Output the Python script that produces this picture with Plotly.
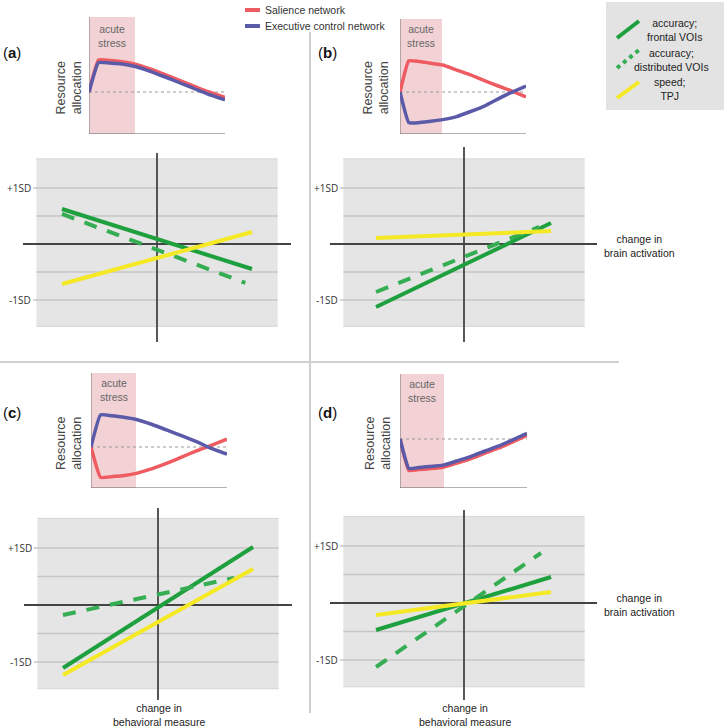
import plotly.graph_objects as go

W, H = 724, 728
FONT = "Liberation Sans, Arial, sans-serif"

# ---------------- data ----------------
panels = ["a", "b", "c", "d"]

# top row: resource allocation over time (arbitrary units; 0 = baseline)
time = [0, 0.7, 1.5, 2.3, 3.4, 4.5, 5.6, 6.7, 7.8, 8.7, 10]
salience = {
    "a": [0, 1.07, 1.05, 1.02, 0.93, 0.77, 0.58, 0.38, 0.18, 0.02, -0.18],
    "b": [0, 1.04, 1.02, 0.97, 0.90, 0.73, 0.57, 0.38, 0.20, 0.06, -0.16],
    "c": [0, -1.01, -0.99, -0.96, -0.87, -0.72, -0.54, -0.33, -0.12, 0.03, 0.26],
    "d": [0, -1.05, -1.02, -0.99, -0.94, -0.80, -0.65, -0.47, -0.30, -0.13, 0.12],
}
executive = {
    "a": [0, 0.98, 0.97, 0.94, 0.85, 0.69, 0.50, 0.30, 0.10, -0.06, -0.26],
    "b": [0, -1.02, -1.02, -0.98, -0.92, -0.82, -0.65, -0.47, -0.23, -0.04, 0.20],
    "c": [0, 1.07, 1.04, 1.00, 0.91, 0.75, 0.56, 0.37, 0.17, -0.02, -0.24],
    "d": [0, -0.98, -0.95, -0.92, -0.87, -0.73, -0.58, -0.40, -0.23, -0.06, 0.19],
}
stress_end = {"a": 3.38, "b": 3.33, "c": 3.31, "d": 3.46}
time_tick = {"a": 8.46, "b": 8.73, "c": 8.31, "d": 8.82}

# bottom row: behavioral change (SD) vs change in brain activation
acc_frontal_x = {"a": [-1.0, 1.0], "b": [-0.926, 0.916], "c": [-1.0, 1.0], "d": [-0.926, 0.916]}
acc_frontal_y = {"a": [0.625, -0.446], "b": [-1.125, 0.375], "c": [-1.105, 1.018], "d": [-0.474, 0.456]}
acc_distr_x = {"a": [-1.0, 0.93], "b": [-0.926, 0.79], "c": [-1.0, 0.80], "d": [-0.926, 0.81]}
acc_distr_y = {"a": [0.536, -0.696], "b": [-0.857, 0.304], "c": [-0.175, 0.474], "d": [-1.123, 0.877]}
speed_x = {"a": [-1.0, 1.0], "b": [-0.926, 0.916], "c": [-1.0, 1.0], "d": [-0.926, 0.916]}
speed_y = {"a": [-0.714, 0.214], "b": [0.107, 0.232], "c": [-1.228, 0.632], "d": [-0.21, 0.193]}

sd_ticks = [1, -1]
sd_labels = ["+1SD", "-1SD"]
grid_levels = [-1.0, -0.5, 0.5, 1.0]

# ---------------- styles / layout geometry (pixels) ----------------
RED = "#ee5b60"
BLUE = "#5a5aa8"
PINK = "#f2d2d5"
GREEN = "#1fa03f"
GREEN_D = "#35ad52"
YELLOW = "#f4e924"
GRID = "#c6c6c6"
RECT = "#e5e5e5"
AX = "#444444"

top_geo = {  # x0, x1, ytop, ybot, baseline
    "a": (89, 225, 17, 134, 92),
    "b": (400, 526, 19, 134, 92),
    "c": (91, 227, 373, 488, 447),
    "d": (400, 527, 374, 488, 439),
}
stress_txt_y = {"a": 35.5, "b": 35.5, "c": 389.5, "d": 391}
res_txt = {"a": (68.5, 88), "b": (375.5, 88), "c": (69, 443), "d": (378, 443)}
bot_geo = {  # cx, cy, xl, xr, yt, yb, px/SD(y)
    "a": (157, 244, 23, 291, 153, 342, 56),
    "b": (464, 244, 330, 597, 147, 342, 56),
    "c": (158, 605, 24, 292, 508, 700, 57),
    "d": (464, 603, 330, 597, 510, 700, 57),
}
SX = 95.0        # px per x unit (bottom panels)
SY_TOP = 30.0    # px per allocation unit (top panels)
RECT_X = 1.27
RECT_Y = (-1.47, 1.52)


def px(x):
    return x / W


def py(y):
    return 1 - y / H


fig = go.Figure()
layout = dict(
    width=W, height=H, margin=dict(l=0, r=0, t=0, b=0),
    paper_bgcolor="white", plot_bgcolor="rgba(0,0,0,0)", showlegend=False,
    font=dict(family=FONT, size=10, color="#333"),
)
shapes = []
annotations = []


def ax_off():
    return dict(visible=False, fixedrange=True)


def note(x, y, text, size=10.5, color="#222", family=FONT, **kw):
    d = dict(xref="paper", yref="paper", x=px(x), y=py(y), text=text, showarrow=False,
             xanchor="center", yanchor="middle", font=dict(size=size, color=color, family=family))
    d.update(kw)
    annotations.append(d)


def seg(xr, yr, x0, x1, y0, y1, line, layer="below"):
    shapes.append(dict(type="line", xref=xr, yref=yr, x0=x0, x1=x1, y0=y0, y1=y1,
                       line=line, layer=layer))


for i, p in enumerate(panels):
    # ---------- top panel ----------
    n = i + 1
    xa, ya = (f"x{n}", f"y{n}") if n > 1 else ("x", "y")
    xk, yk = (f"xaxis{n}", f"yaxis{n}") if n > 1 else ("xaxis", "yaxis")
    x0, x1, yt, yb, base = top_geo[p]
    ylo, yhi = (base - yb) / SY_TOP, (base - yt) / SY_TOP
    layout[xk] = dict(ax_off(), domain=[px(x0), px(x1)], range=[0, 10])
    layout[yk] = dict(ax_off(), domain=[py(yb), py(yt)], range=[ylo, yhi])
    shapes.append(dict(type="rect", xref=xa, yref=ya, x0=0, x1=stress_end[p],
                       y0=ylo, y1=yhi, fillcolor=PINK, line=dict(width=0), layer="below"))
    seg(xa, ya, 0, 10, 0, 0, dict(color="#999", width=1, dash="dot"))
    seg(xa, ya, 0, 0, ylo, yhi, dict(color="#777", width=1))
    seg(xa, ya, 0, 10, ylo, ylo, dict(color="#666", width=1))
    seg(xa, ya, time_tick[p], time_tick[p], ylo - 0.1, ylo, dict(color="#444", width=1.5))
    fig.add_trace(go.Scatter(x=time, y=salience[p], xaxis=xa, yaxis=ya, mode="lines",
                             line=dict(color=RED, width=3.5, shape="spline", smoothing=0.35),
                             hoverinfo="skip", cliponaxis=False))
    fig.add_trace(go.Scatter(x=time, y=executive[p], xaxis=xa, yaxis=ya, mode="lines",
                             line=dict(color=BLUE, width=3.5, shape="spline", smoothing=0.35),
                             hoverinfo="skip", cliponaxis=False))
    sx_px = x0 + stress_end[p] / 10 * (x1 - x0)
    note((x0 + sx_px) / 2, stress_txt_y[p], "acute<br>stress", size=10.5, color="#666")
    rx, ry = res_txt[p]
    note(rx, ry, "Resource<br>allocation", size=12.5, color="#444", textangle=-90)
    lab_x = 12 if p in "ac" else 327
    lab_y = 53 if p in "ab" else 412
    note(lab_x, lab_y, f"(<b>{p}</b>)", size=15, color="#111")

    # ---------- bottom panel ----------
    m = i + 5
    xb, yb2 = f"x{m}", f"y{m}"
    cx, cy, xl, xr, ytp, ybt, sy = bot_geo[p]
    xr0, xr1 = (xl - cx) / SX, (xr - cx) / SX
    yr0, yr1 = (cy - ybt) / sy, (cy - ytp) / sy
    layout[f"xaxis{m}"] = dict(ax_off(), domain=[px(xl), px(xr)], range=[xr0, xr1])
    layout[f"yaxis{m}"] = dict(ax_off(), domain=[py(ybt), py(ytp)], range=[yr0, yr1])
    shapes.append(dict(type="rect", xref=xb, yref=yb2, x0=-RECT_X, x1=RECT_X,
                       y0=RECT_Y[0], y1=RECT_Y[1], fillcolor=RECT, line=dict(width=0),
                       layer="below"))
    for yy in RECT_Y:
        seg(xb, yb2, -RECT_X, RECT_X, yy, yy, dict(color="#d4d4d4", width=1))
    for g in grid_levels:
        xs = -RECT_X - (0.035 if abs(g) == 1 else 0)
        seg(xb, yb2, xs, RECT_X, g, g, dict(color=GRID, width=1.5))
    seg(xb, yb2, xr0, xr1, 0, 0, dict(color=AX, width=1.8))
    seg(xb, yb2, 0, 0, yr0, yr1, dict(color=AX, width=1.8))
    for t, lab in zip(sd_ticks, sd_labels):
        annotations.append(dict(xref=xb, yref=yb2, x=-RECT_X - 0.04, y=t, xanchor="right",
                                yanchor="middle", text=lab, showarrow=False,
                                font=dict(size=10, color="#333", family="Open Sans, sans-serif")))
    fig.add_trace(go.Scatter(x=acc_frontal_x[p], y=acc_frontal_y[p], xaxis=xb, yaxis=yb2,
                             mode="lines", line=dict(color=GREEN, width=4), hoverinfo="skip"))
    fig.add_trace(go.Scatter(x=acc_distr_x[p], y=acc_distr_y[p], xaxis=xb, yaxis=yb2,
                             mode="lines", line=dict(color=GREEN_D, width=4, dash="13px,11px"),
                             hoverinfo="skip"))
    fig.add_trace(go.Scatter(x=speed_x[p], y=speed_y[p], xaxis=xb, yaxis=yb2,
                             mode="lines", line=dict(color=YELLOW, width=4), hoverinfo="skip"))
    if p in "bd":
        note(639, cy + 1.5, "change in<br>brain activation")
    if p in "cd":
        note(cx + 1, 715, "change in<br>behavioral measure")

# dividers
seg("paper", "paper", px(310), px(310), py(32), py(713), dict(color="#d0d0d0", width=2))
seg("paper", "paper", 0, px(619), py(362), py(362), dict(color="#d0d0d0", width=2))

# network legend (top)
for yy, col, lab in [(10, RED, "Salience network"), (26, BLUE, "Executive control network")]:
    seg("paper", "paper", px(245), px(260), py(yy), py(yy), dict(color=col, width=4), "above")
    note(263, yy, lab, size=10.5, color="#333", xanchor="left")

# measure legend box (right)
shapes.append(dict(type="rect", xref="paper", yref="paper", x0=px(606), x1=px(724),
                   y0=py(110), y1=py(2), fillcolor="#e3e3e3", line=dict(width=0), layer="below"))
leg = [
    (38, 21, dict(color=GREEN, width=4), "accuracy;<br>frontal VOIs", 674, 30.5),
    (68, 50, dict(color=GREEN_D, width=4, dash="dot"), "accuracy;<br>distributed VOIs", 671, 59.5),
    (98, 82, dict(color=YELLOW, width=4), "speed;<br>TPJ", 670, 89),
]
for ya0, ya1, ln, lab, tx, ty in leg:
    seg("paper", "paper", px(617), px(639), py(ya0), py(ya1), ln, "above")
    note(tx, ty, lab)

layout["shapes"] = shapes
layout["annotations"] = annotations
fig.update_layout(**layout)
fig.write_html("out.html", config={"displayModeBar": False},
               post_script="document.body.style.margin='0px';document.body.style.overflow='hidden';")
